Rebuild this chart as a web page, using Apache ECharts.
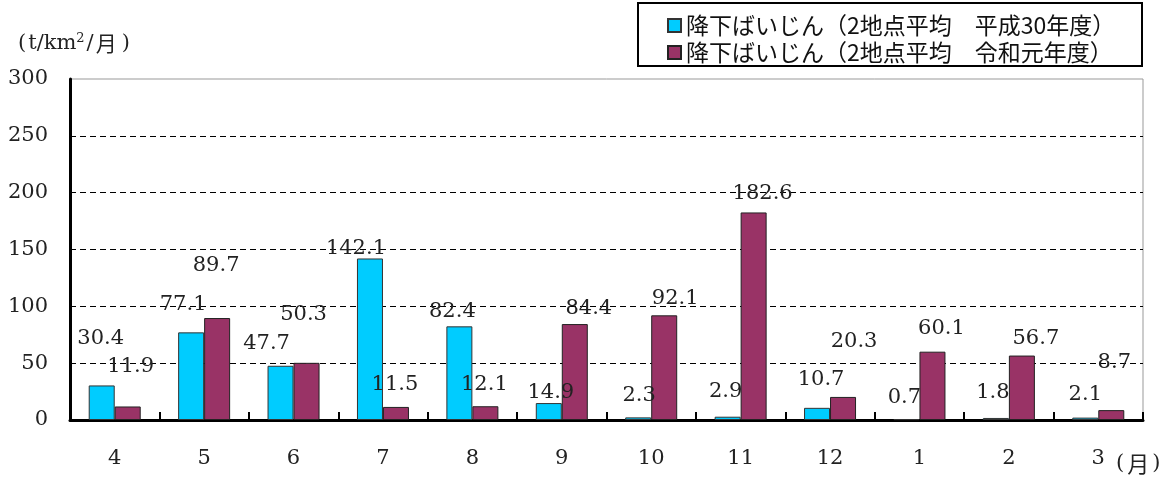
<!DOCTYPE html>
<html>
<head>
<meta charset="utf-8">
<script src="https://cdn.jsdelivr.net/npm/echarts@6/dist/echarts.min.js"></script>
<style>
  html, body { margin: 0; padding: 0; background: #fff; }
  #chart { width: 1170px; height: 481px; }
</style>
</head>
<body>
<div id="chart"></div>
<script>
// Monthly dust fall (two-site average), fiscal years H30 and R1
const months = ['4', '5', '6', '7', '8', '9', '10', '11', '12', '1', '2', '3'];
const dustH30 = [30.4, 77.1, 47.7, 142.1, 82.4, 14.9, 2.3, 2.9, 10.7, 0.7, 1.8, 2.1];
const dustR1 = [11.9, 89.7, 50.3, 11.5, 12.1, 84.4, 92.1, 182.6, 20.3, 60.1, 56.7, 8.7];
const seriesNames = ['降下ばいじん（2地点平均　平成30年度）', '降下ばいじん（2地点平均　令和元年度）'];

// Hand-placed value labels: [dx, dy] of the label centre from the bar's top centre
const labelShiftH30 = [[-1, -47], [-8, -28], [-14, -22], [-14, -10], [-7, -15], [2, -11],
                       [1, -22], [-2, -25], [4, -28], [-2, -22], [-3, -25], [0, -23]];
const labelShiftR1 = [[3, -40], [-1, -52], [-3, -48], [-1, -22], [-1, -22], [14, -16],
                      [11, -17], [9, -19], [11, -55], [9, -23], [14, -17], [3, -48]];

const SERIF = '"DejaVu Serif", "Liberation Serif", "Noto Sans CJK JP", serif';
const JP = '"Noto Sans CJK JP", "DejaVu Serif", sans-serif';
const LABEL_SIZE = 21;

function withLabels(values, shifts) {
  return values.map((v, i) => ({
    value: v,
    label: { offset: [shifts[i][0], shifts[i][1] + LABEL_SIZE / 2] }
  }));
}

const chart = echarts.init(document.getElementById('chart'));

const barLabel = {
  show: true,
  position: 'top',
  distance: 0,
  color: '#222',
  fontFamily: SERIF,
  fontSize: LABEL_SIZE,
  formatter: p => p.value.toFixed(1)
};

chart.setOption({
  animation: false,
  backgroundColor: '#fff',
  grid: {
    left: 70, right: 27, top: 79, bottom: 61,
    show: true, borderColor: '#999', borderWidth: 1
  },
  legend: {
    orient: 'vertical',
    left: 662, top: 9,
    itemWidth: 13, itemHeight: 13, itemGap: 4,
    icon: 'rect',
    textStyle: { fontFamily: JP, fontSize: 23, color: '#111' },
    data: seriesNames
  },
  graphic: [
    {
      type: 'rect',
      shape: { x: 638, y: 3, width: 504, height: 63 },
      style: { fill: 'none', stroke: '#000', lineWidth: 2 },
      z: 0
    },
    {
      type: 'text',
      left: 1116, top: 453,
      style: {
        text: '{p|(}{j|月}{p|)}',
        rich: {
          p: { fontFamily: SERIF, fontSize: 21, fill: '#222' },
          j: { fontFamily: JP, fontSize: 22, fill: '#222', padding: [0, 3, 0, 3] }
        }
      }
    }
  ],
  xAxis: {
    type: 'category',
    data: months,
    axisLine: { lineStyle: { color: '#000', width: 3 } },
    axisTick: { show: true, inside: true, length: 8, lineStyle: { color: '#000', width: 2 } },
    axisLabel: { margin: 28, color: '#222', fontFamily: SERIF, fontSize: 21 }
  },
  yAxis: {
    type: 'value',
    min: 0, max: 300, interval: 50,
    name: '{p|(}{a|t/km}{s|2}{a|/}{j|月}{q|)}',
    nameLocation: 'end',
    nameGap: 24,
    nameTextStyle: {
      align: 'left',
      padding: [0, 0, 0, -52],
      rich: {
        p: { fontFamily: SERIF, fontSize: 21, color: '#222', padding: [0, 2, 0, 0] },
        q: { fontFamily: SERIF, fontSize: 21, color: '#222', padding: [0, 0, 0, 5] },
        a: { fontFamily: SERIF, fontSize: 21, color: '#222' },
        j: { fontFamily: JP, fontSize: 21, color: '#222', padding: [0, 0, 0, 2] },
        s: { fontFamily: SERIF, fontSize: 13, color: '#222', verticalAlign: 'top', padding: [0, 2, 10, 0] }
      }
    },
    axisLine: { show: true, lineStyle: { color: '#000', width: 3 } },
    axisTick: { show: false },
    axisLabel: { margin: 22, color: '#222', fontFamily: SERIF, fontSize: 21 },
    splitLine: {
      show: true,
      lineStyle: {
        color: ['#000', '#000', '#000', '#000', '#000', '#000', 'rgba(0,0,0,0)'],
        type: [6, 4], width: 1
      }
    }
  },
  series: [
    {
      name: seriesNames[0],
      type: 'bar',
      barWidth: 26,
      barGap: '0%',
      itemStyle: { color: '#00CCFF', borderColor: '#333', borderWidth: 1 },
      label: barLabel,
      data: withLabels(dustH30, labelShiftH30)
    },
    {
      name: seriesNames[1],
      type: 'bar',
      barWidth: 26,
      barGap: '0%',
      itemStyle: { color: '#993366', borderColor: '#222', borderWidth: 1 },
      label: barLabel,
      data: withLabels(dustR1, labelShiftR1)
    }
  ]
});
</script>
</body>
</html>
